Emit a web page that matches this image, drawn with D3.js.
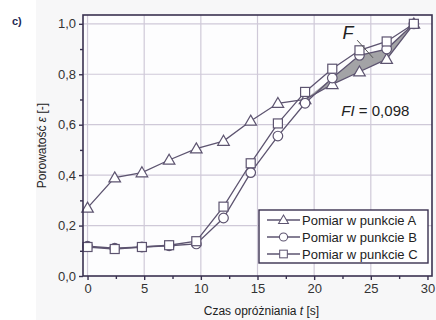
<!DOCTYPE html>
<html lang="pl">
  <head>
    <meta charset="utf-8">
    <title>Porowatosc</title>
    <script src="https://d3js.org/d3.v7.js"></script>
    <style>
      html, body { margin: 0; padding: 0; background: #fff; overflow: hidden; }
      svg { display: block; }
      text { font-family: "Liberation Sans", Arial, sans-serif; }
    </style>
  </head>
  <body>
  <script>

// czas [s] i porowatosc w trzech punktach pomiarowych
var times = [0, 2.4, 4.8, 7.2, 9.6, 12, 14.4, 16.8, 19.2, 21.6, 24, 26.4, 28.8];
var seriesA = [0.27, 0.39, 0.41, 0.46, 0.505, 0.535, 0.615, 0.685, 0.70, 0.76, 0.81, 0.86, 1.0];
var seriesB = [0.118, 0.11, 0.115, 0.12, 0.127, 0.23, 0.41, 0.555, 0.685, 0.785, 0.875, 0.90, 1.0];
var seriesC = [0.115, 0.107, 0.115, 0.122, 0.138, 0.275, 0.447, 0.605, 0.73, 0.822, 0.895, 0.93, 1.0];
var seriesNames = ["Pomiar w punkcie A", "Pomiar w punkcie B", "Pomiar w punkcie C"];
var xTicks = [0, 5, 10, 15, 20, 25, 30];
var yTicks = [0, 0.2, 0.4, 0.6, 0.8, 1.0];
var xMinor = [2.5, 7.5, 12.5, 17.5, 22.5, 27.5];
var yMinor = [0.1, 0.3, 0.5, 0.7, 0.9];
var areaFrom = 8; // pole F od t = 19,2 s

var w = 436;
var h = 320;
var margin = {top: 15, right: 4, bottom: 44, left: 83};
var innerWidth = w - margin.left - margin.right;
var innerHeight = h - margin.top - margin.bottom;

var frameColor = "#3a3150";
var lineColor = "#5d5470";
var gridColor = "#cfc9d8";

var xScale = d3.scaleLinear()
    .domain([-0.4, 30.4])
    .range([0, innerWidth]);

var yScale = d3.scaleLinear()
    .domain([0, 1.035])
    .range([innerHeight, 0]);

var fmt = d => d3.format(".1f")(d).replace(".", ",");

var svg = d3.select("body")
  .append("svg")
    .attr("width", w)
    .attr("height", h);

// lekko szare tlo figury
svg.append("rect")
    .attr("x", 36).attr("y", 0)
    .attr("width", w - 36).attr("height", h)
    .attr("fill", "#f7f7f8");
svg.append("rect")
    .attr("x", 0).attr("y", 0)
    .attr("width", 30).attr("height", 44)
    .attr("fill", "#fff");

svg.append("text")
    .attr("x", 12).attr("y", 25)
    .attr("font-size", 11)
    .attr("font-weight", "bold")
    .attr("fill", "#1d2a55")
    .text("c)");

var g = svg.append("g")
    .attr("transform", `translate (${margin.left}, ${margin.top})`);

g.append("rect")
    .attr("width", innerWidth)
    .attr("height", innerHeight)
    .attr("fill", "#fdfdfe");

// siatka
g.selectAll(".vgrid")
    .data(xTicks.slice(1, -1).concat([0]))
  .enter().append("line")
    .attr("x1", d => xScale(d)).attr("x2", d => xScale(d))
    .attr("y1", 0).attr("y2", innerHeight)
    .attr("stroke", gridColor).attr("stroke-width", 1.2);

g.selectAll(".hgrid")
    .data(yTicks.slice(1))
  .enter().append("line")
    .attr("x1", 0).attr("x2", innerWidth)
    .attr("y1", d => yScale(d)).attr("y2", d => yScale(d))
    .attr("stroke", gridColor).attr("stroke-width", 1.2);

// pole F miedzy krzywa B i A
var areaData = times.map((t, i) => ({t: t, lo: seriesA[i], hi: Math.max(seriesA[i], seriesB[i])}))
    .slice(areaFrom);

g.append("path")
    .datum(areaData)
    .attr("fill", "#a3a3a6")
    .attr("d", d3.area()
      .x(d => xScale(d.t))
      .y0(d => yScale(d.lo))
      .y1(d => yScale(d.hi)));

var allSeries = [seriesA, seriesB, seriesC];
var shapes = ["tri", "circ", "sq"];

function drawMarker(sel, shape) {
  if (shape == "tri") {
    sel.append("path")
      .attr("d", "M0,-5.8 L5.8,4.2 L-5.8,4.2 Z");
  } else if (shape == "circ") {
    sel.append("circle").attr("r", 4.8);
  } else {
    sel.append("rect")
      .attr("x", -4.5).attr("y", -4.5)
      .attr("width", 9).attr("height", 9);
  }
  sel.selectAll("path, circle, rect")
    .attr("fill", "#fff")
    .attr("stroke", lineColor)
    .attr("stroke-width", 1.2);
}

var line = d3.line()
    .x(d => xScale(d.t))
    .y(d => yScale(d.v));

allSeries.forEach(function (s, k) {
  var pts = times.map((t, i) => ({t: t, v: s[i]}));
  g.append("path")
      .datum(pts)
      .attr("fill", "none")
      .attr("stroke", lineColor)
      .attr("stroke-width", 1.3)
      .attr("d", line);
});

allSeries.forEach(function (s, k) {
  var pts = times.map((t, i) => ({t: t, v: s[i]}));
  g.selectAll(".m" + k)
      .data(pts)
    .enter().append("g")
      .attr("transform", d => `translate (${xScale(d.t)}, ${yScale(d.v)})`)
      .each(function () { drawMarker(d3.select(this), shapes[k]); });
});

// ramka
g.append("rect")
    .attr("width", innerWidth)
    .attr("height", innerHeight)
    .attr("fill", "none")
    .attr("stroke", frameColor)
    .attr("stroke-width", 1.6);

// osie
var xAxis = d3.axisBottom(xScale).tickValues(xTicks).tickSize(4).tickPadding(4).tickFormat(d3.format("d"));
var yAxis = d3.axisLeft(yScale).tickValues(yTicks).tickSize(4).tickPadding(3).tickFormat(fmt);

var xg = g.append("g")
    .attr("transform", `translate (0, ${innerHeight})`)
    .call(xAxis);
xg.append("g").call(d3.axisBottom(xScale).tickValues(xMinor).tickSize(3).tickFormat(""));

var yg = g.append("g").call(yAxis);
yg.append("g").call(d3.axisLeft(yScale).tickValues(yMinor).tickSize(3).tickFormat(""));

g.selectAll(".domain").remove();
// puste etykiety drobnych podzialek nie sa potrzebne
g.selectAll(".tick text").filter(function () { return this.textContent == ""; }).remove();
g.selectAll(".tick line").attr("stroke", frameColor).attr("stroke-width", 1.4);
g.selectAll(".tick text")
    .attr("font-family", "Liberation Sans, Arial, sans-serif")
    .attr("font-size", 13)
    .attr("fill", "#333");

// legenda
var legend = g.append("g")
    .attr("transform", `translate (${259 - margin.left}, ${210 - margin.top})`);

legend.append("rect")
    .attr("width", 169)
    .attr("height", 53)
    .attr("fill", "#fff")
    .attr("stroke", frameColor)
    .attr("stroke-width", 1.4);

seriesNames.forEach(function (name, k) {
  var row = legend.append("g")
      .attr("transform", `translate (0, ${10 + k * 17})`);
  row.append("line")
      .attr("x1", 8).attr("x2", 41)
      .attr("stroke", lineColor).attr("stroke-width", 1.3);
  var m = row.append("g");
  drawMarker(m, shapes[k]);
  m.attr("transform", "translate (24.5, 0) scale(0.85)");
  row.append("text")
      .attr("x", 43).attr("y", 4.5)
      .attr("font-size", 13)
      .attr("fill", "#222")
      .text(name);
});

// opisy pola F
g.append("line")
    .attr("x1", xScale(23.8)).attr("y1", yScale(0.935))
    .attr("x2", xScale(25.2)).attr("y2", yScale(0.865))
    .attr("stroke", "#555").attr("stroke-width", 1);

g.append("text")
    .attr("x", xScale(22.5)).attr("y", yScale(0.94))
    .attr("font-size", 18)
    .attr("font-style", "italic")
    .attr("fill", "#222")
    .text("F");

var fi = g.append("text")
    .attr("x", xScale(22.4)).attr("y", yScale(0.635))
    .attr("font-size", 15)
    .attr("fill", "#222");
fi.append("tspan").attr("font-style", "italic").text("FI");
fi.append("tspan").text(" = 0,098");

// podpisy osi
var yl = svg.append("text")
    .attr("transform", `translate (46, ${margin.top + innerHeight / 2}) rotate(-90)`)
    .attr("text-anchor", "middle")
    .attr("font-size", 12)
    .attr("fill", "#222");
yl.append("tspan").text("Porowatość ");
yl.append("tspan").attr("font-style", "italic").text("ε");
yl.append("tspan").text(" [-]");

var xl = svg.append("text")
    .attr("x", margin.left + innerWidth / 2 + 4)
    .attr("y", 315)
    .attr("text-anchor", "middle")
    .attr("font-size", 12)
    .attr("fill", "#222");
xl.append("tspan").text("Czas opróżniania ");
xl.append("tspan").attr("font-style", "italic").text("t");
xl.append("tspan").text(" [s]");

  </script>
  </body>
</html>
